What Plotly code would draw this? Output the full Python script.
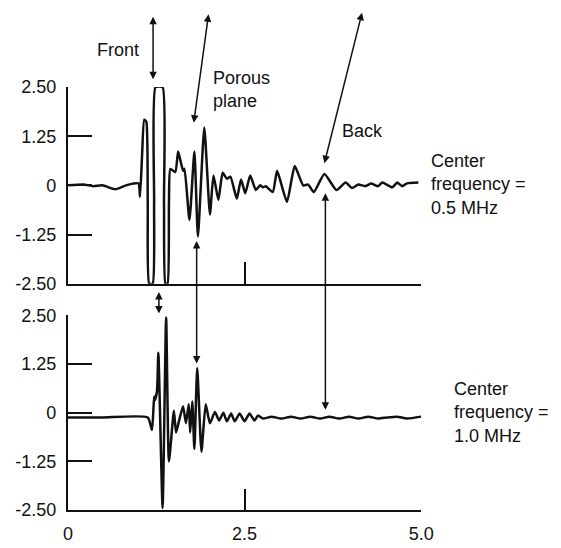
import plotly.graph_objects as go

W, H = 561, 548

# --- data: time axis (0-5) and amplitude (-2.5..2.5) ---
t_top = [0.01, 0.22, 0.36, 0.49, 0.67, 0.82, 0.93, 1.00, 1.02, 1.05, 1.08, 1.11, 1.13, 1.15, 1.20,
         1.22, 1.24, 1.34, 1.36, 1.38, 1.41, 1.43, 1.45, 1.52, 1.56, 1.63, 1.65, 1.72, 1.79, 1.84,
         1.93, 2.01, 2.06, 2.13, 2.19, 2.25, 2.30, 2.39, 2.45, 2.51, 2.58, 2.66, 2.72, 2.76, 2.80,
         2.90, 2.96, 3.10, 3.21, 3.33, 3.40, 3.48, 3.63, 3.80, 3.93, 4.02, 4.11, 4.21, 4.29, 4.39,
         4.45, 4.59, 4.66, 4.73, 4.80, 4.96]
a_top = [0.00, 0.02, -0.02, 0.00, -0.10, 0.00, 0.05, 0.05, -0.29, 0.78, 1.67, 1.62, -0.44, -2.5, -2.5,
         -0.44, 2.5, 2.5, -0.44, -2.5, -2.5, -0.44, 0.42, 0.34, 0.86, 0.37, 0.42, -0.88, 0.86, -1.30,
         1.47, -0.74, 0.25, -0.37, 0.32, 0.17, 0.22, -0.34, 0.15, -0.20, 0.25, -0.12, 0.00, -0.05, -0.02,
         -0.17, 0.37, -0.42, 0.49, 0.00, 0.02, -0.17, 0.29, -0.12, 0.07, -0.07, 0.02, -0.02, 0.05, -0.02,
         0.07, -0.05, 0.07, -0.02, 0.05, 0.07]

t_bot = [0.00, 0.49, 1.13, 1.19, 1.22, 1.23, 1.26, 1.28, 1.34, 1.39, 1.43, 1.50, 1.53, 1.58, 1.63,
         1.67, 1.71, 1.73, 1.76, 1.79, 1.83, 1.89, 1.95, 2.01, 2.08, 2.14, 2.20, 2.25, 2.31, 2.36,
         2.43, 2.50, 2.57, 2.64, 2.69, 2.76, 2.88, 3.02, 3.16, 3.29, 3.43, 3.57, 3.70, 3.84, 3.98,
         4.11, 4.25, 4.39, 4.52, 4.66, 4.80, 5.00]
a_bot = [-0.12, -0.12, -0.12, -0.44, 0.42, 0.32, 0.54, 1.54, -2.45, 2.45, -1.25, 0.05, -0.51, -0.15, 0.17,
         -0.27, 0.22, -0.51, 0.29, -0.93, 1.15, -1.00, 0.22, -0.27, 0.02, -0.20, 0.00, -0.22, -0.02, -0.22,
         -0.02, -0.22, -0.02, -0.20, -0.07, -0.15, -0.10, -0.15, -0.10, -0.15, -0.10, -0.15, -0.10, -0.15, -0.10,
         -0.15, -0.10, -0.15, -0.12, -0.10, -0.15, -0.10]

y_ticks = [2.5, 1.25, 0, -1.25, -2.5]
y_tick_labels = ["2.50", "1.25", "0", "-1.25", "-2.50"]
x_ticks = [0, 2.5, 5.0]
x_tick_labels = ["0", "2.5", "5.0"]

FONT = "Liberation Sans"
INK = "#111111"


def pxx(p):
    return p / W


def pxy(p):
    return 1 - p / H


fig = go.Figure()
fig.add_trace(go.Scatter(x=t_top, y=a_top, mode="lines",
                         line=dict(color=INK, width=2.5, shape="spline", smoothing=0.5),
                         xaxis="x", yaxis="y", showlegend=False, cliponaxis=False))
fig.add_trace(go.Scatter(x=t_bot, y=a_bot, mode="lines",
                         line=dict(color=INK, width=2.5, shape="spline", smoothing=0.5),
                         xaxis="x2", yaxis="y2", showlegend=False, cliponaxis=False))

ax_common = dict(showgrid=False, zeroline=False, showline=True, linecolor=INK, linewidth=2,
                 ticks="inside", tickcolor=INK, tickwidth=2, mirror=False,
                 tickfont=dict(family=FONT, size=18, color=INK))

xdom = [pxx(65), pxx(430)]
fig.update_layout(
    width=W, height=H, autosize=False,
    margin=dict(l=0, r=0, t=0, b=0),
    paper_bgcolor="white", plot_bgcolor="white",
    xaxis=dict(domain=xdom, range=[0, 5], anchor="y", tickvals=x_ticks, ticktext=x_tick_labels,
               showticklabels=False, ticklen=22, **ax_common),
    yaxis=dict(domain=[pxy(284), pxy(80)], range=[-2.5, 2.5], anchor="x", tickvals=y_ticks,
               ticktext=y_tick_labels, ticklen=24, ticklabelstandoff=6, **ax_common),
    xaxis2=dict(domain=xdom, range=[0, 5], anchor="y2", tickvals=x_ticks, ticktext=x_tick_labels,
                ticklen=21, ticklabelstandoff=6, **ax_common),
    yaxis2=dict(domain=[pxy(519), pxy(317)], range=[-2.5, 2.5], anchor="x2", tickvals=y_ticks,
                ticktext=y_tick_labels, ticklen=24, ticklabelstandoff=6, **ax_common),
)

annots = []
# arrows: head (px, py), tail offset (dx, dy) in pixels
arrows = [((153, 72), (0, -64)),
          ((195, 117), (15, -110)),
          ((330, 159), (38, -152)),
          ((198, 367), (0, -124)),
          ((331, 415), (0, -218)),
          ((159, 315), (0, -23))]
for (hx, hy), (dx, dy) in arrows:
    annots.append(dict(x=pxx(hx), y=pxy(hy), xref="paper", yref="paper", text="",
                       showarrow=True, ax=dx, ay=dy, axref="pixel", ayref="pixel",
                       arrowhead=2, startarrowhead=2, arrowside="end+start",
                       arrowsize=1, startarrowsize=1, arrowwidth=1.5, arrowcolor=INK,
                       standoff=0, startstandoff=0))

texts = [("Front", 117, 41, "center", "center"),
         ("Porous<br>plane", 213, 82, "left", "left"),
         ("Back", 369, 126, "center", "center"),
         ("Center<br>frequency =<br>0.5 MHz", 438, 181, "left", "left"),
         ("Center<br>frequency =<br>1.0 MHz", 462, 418, "left", "left")]
for txt, x, y, xa, al in texts:
    annots.append(dict(x=pxx(x), y=pxy(y), xref="paper", yref="paper", text=txt, showarrow=False,
                       xanchor=xa, yanchor="middle", align=al,
                       font=dict(family=FONT, size=18, color=INK)))
fig.update_layout(annotations=annots)

fig.write_html("out.html")
